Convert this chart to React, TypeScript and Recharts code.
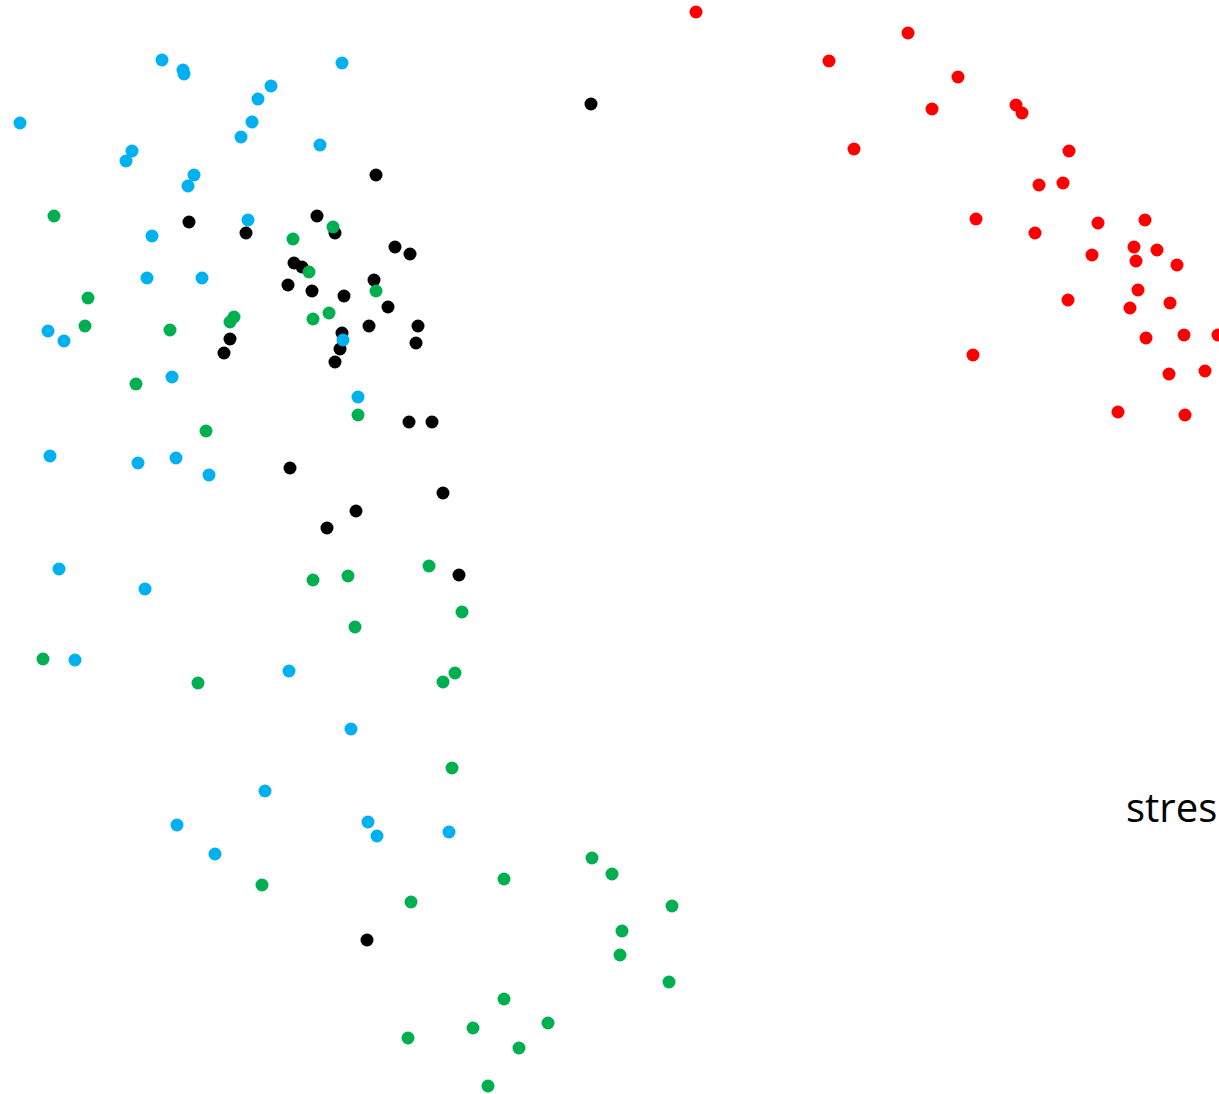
import React from 'react';
import { ScatterChart, Scatter, XAxis, YAxis } from 'recharts';

// point positions (x to the right, y downwards)
const bluePoints = [
  { x: 20, y: 123 }, { x: 162, y: 60 }, { x: 183, y: 70 }, { x: 184, y: 74 },
  { x: 342, y: 63 }, { x: 271, y: 86 }, { x: 258, y: 99 }, { x: 252, y: 122 },
  { x: 241, y: 137 }, { x: 320, y: 145 }, { x: 132, y: 151 }, { x: 126, y: 161 },
  { x: 194, y: 175 }, { x: 188, y: 186 }, { x: 248, y: 220 }, { x: 152, y: 236 },
  { x: 147, y: 278 }, { x: 202, y: 278 }, { x: 48, y: 331 }, { x: 64, y: 341 },
  { x: 172, y: 377 }, { x: 358, y: 397 }, { x: 50, y: 456 },
  { x: 138, y: 463 }, { x: 176, y: 458 }, { x: 209, y: 475 }, { x: 59, y: 569 },
  { x: 145, y: 589 }, { x: 75, y: 660 }, { x: 289, y: 671 }, { x: 351, y: 729 },
  { x: 265, y: 791 }, { x: 177, y: 825 }, { x: 215, y: 854 }, { x: 368, y: 822 },
  { x: 377, y: 836 }, { x: 449, y: 832 },
];

const greenPoints = [
  { x: 54, y: 216 }, { x: 293, y: 239 }, { x: 88, y: 298 },
  { x: 85, y: 326 }, { x: 170, y: 330 }, { x: 234, y: 317 }, { x: 230, y: 322 },
  { x: 136, y: 384 }, { x: 358, y: 415 },
  { x: 206, y: 431 }, { x: 313, y: 580 }, { x: 348, y: 576 }, { x: 429, y: 566 },
  { x: 462, y: 612 }, { x: 355, y: 627 }, { x: 43, y: 659 }, { x: 198, y: 683 },
  { x: 443, y: 682 }, { x: 455, y: 673 }, { x: 452, y: 768 }, { x: 262, y: 885 },
  { x: 411, y: 902 }, { x: 504, y: 879 }, { x: 592, y: 858 }, { x: 612, y: 874 },
  { x: 672, y: 906 }, { x: 622, y: 931 }, { x: 620, y: 955 }, { x: 669, y: 982 },
  { x: 504, y: 999 }, { x: 548, y: 1023 }, { x: 473, y: 1028 }, { x: 519, y: 1048 },
  { x: 408, y: 1038 }, { x: 488, y: 1086 },
];

// green dots that sit on top of black ones in the dense cluster
const greenTopPoints = [
  { x: 333, y: 227 }, { x: 309, y: 272 }, { x: 376, y: 291 },
  { x: 329, y: 313 }, { x: 313, y: 319 },
];

const blackPoints = [
  { x: 591, y: 104 }, { x: 376, y: 175 }, { x: 189, y: 222 }, { x: 246, y: 233 },
  { x: 317, y: 216 }, { x: 335, y: 233 }, { x: 395, y: 247 }, { x: 410, y: 254 },
  { x: 294, y: 263 }, { x: 302, y: 267 }, { x: 288, y: 285 }, { x: 312, y: 291 },
  { x: 344, y: 296 }, { x: 374, y: 280 }, { x: 388, y: 307 }, { x: 369, y: 326 },
  { x: 418, y: 326 }, { x: 416, y: 343 }, { x: 230, y: 339 }, { x: 224, y: 353 },
  { x: 342, y: 333 }, { x: 340, y: 349 }, { x: 335, y: 362 }, { x: 409, y: 422 },
  { x: 432, y: 422 }, { x: 290, y: 468 }, { x: 443, y: 493 }, { x: 356, y: 511 },
  { x: 327, y: 528 }, { x: 459, y: 575 }, { x: 367, y: 940 },
];

// blue dot drawn over the black ones
const blueTopPoints = [{ x: 343, y: 340 }];

const redPoints = [
  { x: 696, y: 12 }, { x: 908, y: 33 }, { x: 829, y: 61 }, { x: 958, y: 77 },
  { x: 932, y: 109 }, { x: 1016, y: 105 }, { x: 1022, y: 113 }, { x: 854, y: 149 },
  { x: 1069, y: 151 }, { x: 1039, y: 185 }, { x: 1063, y: 183 }, { x: 976, y: 219 },
  { x: 1035, y: 233 }, { x: 1098, y: 223 }, { x: 1145, y: 220 }, { x: 1092, y: 255 },
  { x: 1134, y: 247 }, { x: 1157, y: 250 }, { x: 1136, y: 261 }, { x: 1177, y: 265 },
  { x: 1138, y: 290 }, { x: 1068, y: 300 }, { x: 1130, y: 308 }, { x: 1170, y: 303 },
  { x: 1146, y: 338 }, { x: 1184, y: 335 }, { x: 1218, y: 335 }, { x: 973, y: 355 },
  { x: 1169, y: 374 }, { x: 1205, y: 371 }, { x: 1118, y: 412 }, { x: 1185, y: 415 },
];

// the label as far as it is visible in the picture
const labelText = 'stres';

const W = 1219;
const H = 1094;

const dot = (color: string) => (props: any) => (
  <circle cx={props.cx} cy={props.cy} r={6.5} fill={color} />
);

export default function App() {
  return (
    <div style={{ position: 'absolute', left: 0, top: 0, width: W, height: H, background: '#fff', overflow: 'hidden' }}>
      <ScatterChart width={W} height={H} margin={{ top: 0, right: 0, bottom: 0, left: 0 }}>
        <XAxis type="number" dataKey="x" domain={[0, W]} hide allowDataOverflow />
        <YAxis type="number" dataKey="y" domain={[0, H]} reversed hide allowDataOverflow />
        <Scatter data={bluePoints} shape={dot('#00B0F0')} isAnimationActive={false} />
        <Scatter data={greenPoints} shape={dot('#00B050')} isAnimationActive={false} />
        <Scatter data={blackPoints} shape={dot('#000000')} isAnimationActive={false} />
        <Scatter data={greenTopPoints} shape={dot('#00B050')} isAnimationActive={false} />
        <Scatter data={blueTopPoints} shape={dot('#00B0F0')} isAnimationActive={false} />
        <Scatter data={redPoints} shape={dot('#FF0000')} isAnimationActive={false} />
      </ScatterChart>
      <div
        style={{
          position: 'absolute',
          left: 1126,
          top: 782,
          fontFamily: '"Open Sans", sans-serif',
          fontSize: 40,
          lineHeight: '50px',
          color: '#000',
          whiteSpace: 'nowrap',
        }}
      >
        {labelText}
      </div>
    </div>
  );
}
